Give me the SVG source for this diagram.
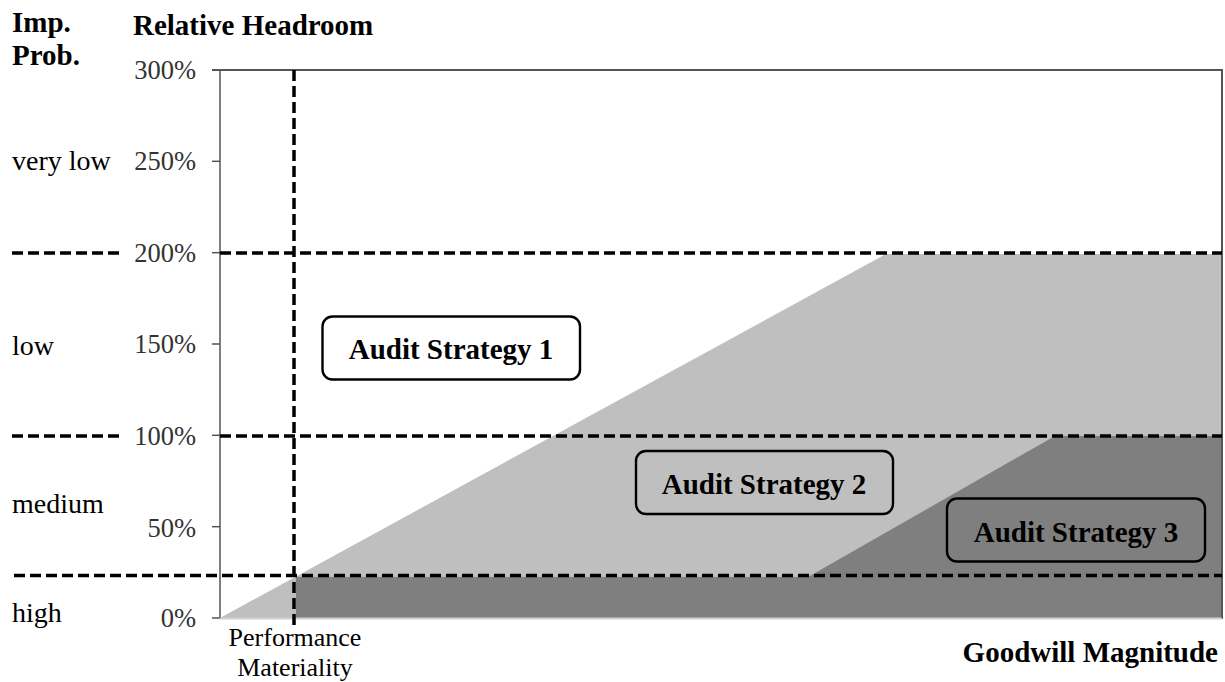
<svg xmlns="http://www.w3.org/2000/svg" width="1225" height="682" viewBox="0 0 1225 682">
<style>
.b{font-family:"Liberation Serif","Times New Roman",serif;font-weight:bold;font-size:29px;fill:#000}
.r{font-family:"Liberation Serif","Times New Roman",serif;font-size:28px;fill:#000}
.t{font-family:"Liberation Serif","Times New Roman",serif;font-size:26.5px;fill:#333;text-anchor:end}
.pm{font-family:"Liberation Serif","Times New Roman",serif;font-size:26px;fill:#000;text-anchor:middle}
.dash{stroke:#000;stroke-width:3.5;stroke-dasharray:11 5;fill:none}
.box{stroke:#000;stroke-width:2.4}
.bt{font-family:"Liberation Serif","Times New Roman",serif;font-weight:bold;font-size:29px;fill:#000;text-anchor:middle}
</style>
<rect width="1225" height="682" fill="#fff"/>
<g id="areas">
<polygon points="220,618 886,254 1222,254 1222,618" fill="#bfbfbf"/>
<polygon points="296,577 808,577 1055,436 1222,436 1222,618 296,618" fill="#7f7f7f"/>
</g>
<g id="axes">
<line x1="220" y1="70" x2="220" y2="618" stroke="#555" stroke-width="1.5"/>
<line x1="212" y1="70" x2="1222" y2="70" stroke="#555" stroke-width="2"/>
<line x1="1222" y1="69" x2="1222" y2="619" stroke="#555" stroke-width="2"/>
<line x1="220" y1="618.5" x2="1222" y2="618.5" stroke="#d0d0d0" stroke-width="2"/>
<g stroke="#555" stroke-width="1.5">
<line x1="212" y1="161.3" x2="220" y2="161.3"/>
<line x1="212" y1="252.7" x2="220" y2="252.7"/>
<line x1="212" y1="344" x2="220" y2="344"/>
<line x1="212" y1="435.3" x2="220" y2="435.3"/>
<line x1="212" y1="526.7" x2="220" y2="526.7"/>
<line x1="212" y1="618" x2="220" y2="618"/>
</g>
<text class="t" x="196" y="79">300%</text>
<text class="t" x="196" y="170">250%</text>
<text class="t" x="196" y="262">200%</text>
<text class="t" x="196" y="353">150%</text>
<text class="t" x="196" y="445">100%</text>
<text class="t" x="196" y="537">50%</text>
<text class="t" x="196" y="627">0%</text>
</g>
<g id="connectors">
<line class="dash" x1="12" y1="253" x2="120" y2="253"/>
<line class="dash" x1="220" y1="253" x2="1222" y2="253"/>
<line class="dash" x1="12" y1="436" x2="120" y2="436"/>
<line class="dash" x1="220" y1="436" x2="1222" y2="436"/>
<line class="dash" x1="14" y1="575.5" x2="1222" y2="575.5"/>
<line class="dash" x1="294" y1="70" x2="294" y2="627"/>
</g>
<g id="labels">
<text class="b" x="12" y="32">Imp.</text>
<text class="b" x="12" y="65">Prob.</text>
<text class="b" x="133" y="35">Relative Headroom</text>
<text class="r" x="12" y="170">very low</text>
<text class="r" x="12" y="355">low</text>
<text class="r" x="12" y="513">medium</text>
<text class="r" x="12" y="622">high</text>
<text class="pm" x="295" y="646">Performance</text>
<text class="pm" x="295" y="676">Materiality</text>
<text class="b" x="1218" y="662" text-anchor="end">Goodwill Magnitude</text>
</g>
<g id="strategy1">
<rect class="box" x="322.5" y="316.5" width="257.5" height="63" rx="10" fill="#fff"/>
<text class="bt" x="451" y="359">Audit Strategy 1</text>
</g>
<g id="strategy2">
<rect class="box" x="636" y="451" width="257" height="63" rx="10" fill="#bfbfbf"/>
<text class="bt" x="764" y="494">Audit Strategy 2</text>
</g>
<g id="strategy3">
<rect class="box" x="947" y="498.5" width="258" height="63" rx="10" fill="#7f7f7f"/>
<text class="bt" x="1076" y="541.5">Audit Strategy 3</text>
</g>
</svg>
